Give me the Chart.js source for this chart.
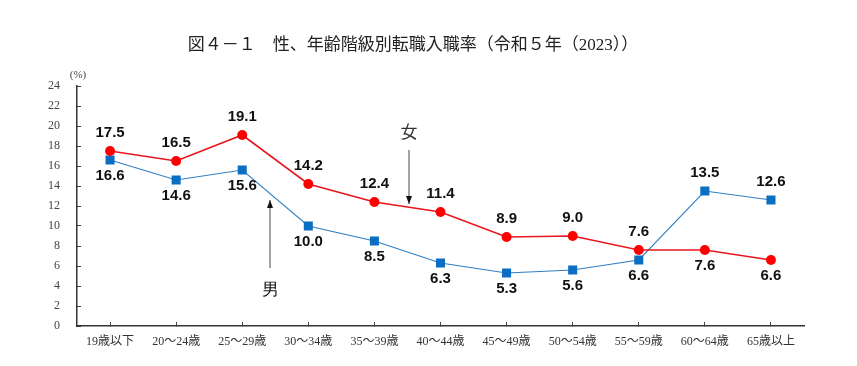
<!DOCTYPE html>
<html>
<head>
<meta charset="utf-8">
<script src="https://cdn.jsdelivr.net/npm/chart.js@4"></script>
<style>
  html, body { margin: 0; padding: 0; background: #fff; }
  #wrap { width: 857px; height: 366px; }
</style>
</head>
<body>
<div id="wrap"><canvas id="chart" width="857" height="366"></canvas></div>
<script>
// 図4-1 性、年齢階級別転職入職率（令和5年）
const ageGroups = ["19歳以下", "20～24歳", "25～29歳", "30～34歳", "35～39歳", "40～44歳",
  "45～49歳", "50～54歳", "55～59歳", "60～64歳", "65歳以上"]
const female = [17.5, 16.5, 19.1, 14.2, 12.4, 11.4, 8.9, 9.0, 7.6, 7.6, 6.6]
const male = [16.6, 14.6, 15.6, 10.0, 8.5, 6.3, 5.3, 5.6, 6.6, 13.5, 12.6]
const yTicks = [0, 2, 4, 6, 8, 10, 12, 14, 16, 18, 20, 22, 24]

// label placement: -1 above the point, +1 below
const femaleSide = [-1, -1, -1, -1, -1, -1, -1, -1, -1, 1, 1]
const maleSide = [1, 1, 1, 1, 1, 1, 1, 1, 1, -1, -1]

const serif = '"Liberation Serif", "Noto Sans CJK JP", serif'
const bold = '"Liberation Sans", Arial, sans-serif'

const fmt = v => v.toFixed(1)

const extras = {
  id: "extras",
  afterDatasetsDraw(chart) {
    const ctx = chart.ctx
    const x = chart.scales.x, y = chart.scales.y
    ctx.save()

    // title
    ctx.fillStyle = "#222"
    ctx.font = "17px " + serif
    ctx.textAlign = "center"
    ctx.textBaseline = "middle"
    ctx.fillText("図４－１　性、年齢階級別転職入職率（令和５年（2023））", 413, 46)

    // unit
    ctx.font = "11px " + serif
    ctx.fillStyle = "#444"
    ctx.fillText("(%)", 78, 75)

    // value labels
    ctx.font = "bold 15px " + bold
    ctx.fillStyle = "#111"
    const put = (vals, side) => vals.forEach((v, i) => {
      const px = x.getPixelForValue(i)
      const py = y.getPixelForValue(v)
      ctx.fillText(fmt(v), px, py + side[i] * (side[i] < 0 ? 18 : 16))
    })
    put(female, femaleSide)
    put(male, maleSide)

    // annotations
    const arrow = (ax, y0, y1) => {
      ctx.strokeStyle = "#666"
      ctx.lineWidth = 1.2
      ctx.beginPath()
      ctx.moveTo(ax, y0)
      ctx.lineTo(ax, y1)
      ctx.stroke()
      const d = y1 > y0 ? 1 : -1
      ctx.fillStyle = "#111"
      ctx.beginPath()
      ctx.moveTo(ax, y1)
      ctx.lineTo(ax - 3, y1 - d * 8)
      ctx.lineTo(ax + 3, y1 - d * 8)
      ctx.closePath()
      ctx.fill()
    }
    ctx.font = "17px " + serif
    ctx.fillStyle = "#333"
    ctx.fillText("女", 409, 134)
    arrow(409, 150, 204)
    ctx.font = "17px " + bold
    ctx.fillStyle = "#111"
    ctx.fillText("男", 270, 290)
    arrow(270, 268, 200)

    ctx.restore()
  }
}

new Chart(document.getElementById("chart"), {
  type: "line",
  data: {
    labels: ageGroups,
    datasets: [
      {
        label: "女",
        data: female,
        borderColor: "#e8161d",
        backgroundColor: "#ff0000",
        borderWidth: 1.6,
        pointStyle: "circle",
        pointRadius: 5,
        pointBorderWidth: 0,
        tension: 0
      },
      {
        label: "男",
        data: male,
        borderColor: "#2f7fc4",
        backgroundColor: "#0a6fc2",
        borderWidth: 1.1,
        pointStyle: "rect",
        pointRadius: 6.4,
        pointBorderWidth: 0,
        tension: 0
      }
    ]
  },
  options: {
    responsive: false,
    animation: false,
    layout: { padding: { top: 86, right: 53, bottom: 0, left: 0 } },
    plugins: {
      legend: { display: false },
      title: { display: false },
      tooltip: { enabled: false }
    },
    scales: {
      x: {
        offset: true,
        grid: { offset: false, drawOnChartArea: false, tickLength: -4, color: "#444", lineWidth: 1 },
        border: { color: "#333", width: 1.5 },
        ticks: { padding: 13, color: "#333", font: { family: serif, size: 12 }, maxRotation: 0, autoSkip: false },
        afterFit: s => { s.height = 40 }
      },
      y: {
        min: 0,
        max: 24,
        afterBuildTicks: s => { s.ticks = yTicks.map(v => ({ value: v })) },
        grid: { drawOnChartArea: false, tickLength: -4, color: "#444", lineWidth: 1 },
        border: { color: "#333", width: 1.5 },
        ticks: { padding: 21, color: "#444", font: { family: serif, size: 12 } },
        afterFit: s => { s.width = 77 }
      }
    }
  },
  plugins: [extras]
})
</script>
</body>
</html>
